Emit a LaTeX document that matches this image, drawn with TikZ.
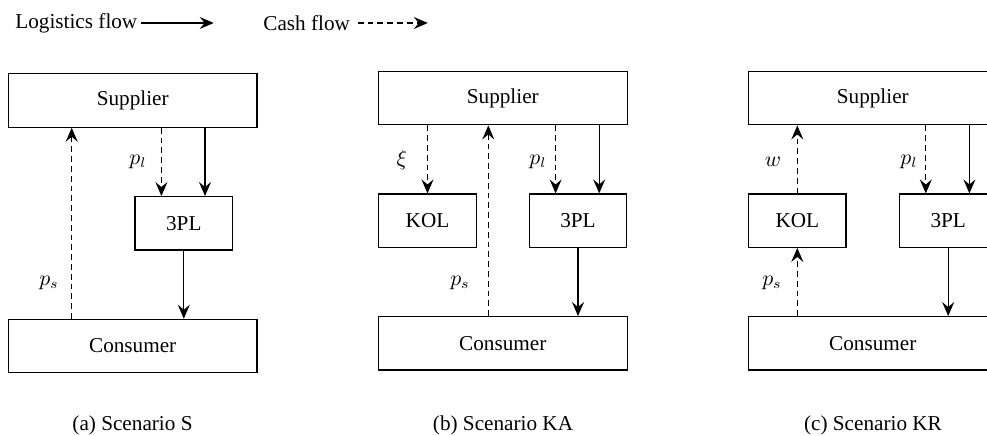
\documentclass[tikz,border=0pt]{standalone}
\usepackage{fontspec}
\setmainfont{Liberation Serif}
\usetikzlibrary{arrows.meta,calc}
\begin{document}
\begin{tikzpicture}[x=0.5bp,y=-0.5bp,
  font=\fontsize{10.6bp}{12bp}\selectfont,
  box/.style={draw,line width=0.6bp,rectangle,inner sep=0pt,minimum height=26.65bp},
  bigbox/.style={box,minimum width=124.3bp},
  smallbox/.style={box,minimum width=48.7bp},
  flow/.style={line width=0.6bp,-{Stealth[length=7bp,width=6bp,inset=2.5bp]}},
  cash/.style={flow,dash pattern=on 2.9bp off 2bp},
  lbl/.style={inner sep=0pt}]
\useasboundingbox (0,0) rectangle (987,436);
\clip (0,0) rectangle (987,436);

% legend
\node[lbl,anchor=west] (lgL) at (15,23) {Logistics flow};
\draw[flow] ([xshift=1.5bp]lgL.east) -- ++(73,0);
\node[lbl,anchor=west] (lgC) at (263,23) {Cash flow};
\draw[cash] ([xshift=3.7bp]lgC.east) -- ++(70,0);

% panel (a)
\node[bigbox] (supA) at (132.7,100.5) {Supplier};
\node[smallbox] (tplA) at (183.8,223.3) {3PL};
\node[bigbox] (conA) at (132.7,346) {Consumer};
\coordinate (psA) at (71.7,0);
\draw[cash] (conA.north -| psA) -- (supA.south -| psA);
\draw[cash] ($(supA.south -| tplA.north)+(-22.4,0)$) -- ($(tplA.north)+(-22.4,0)$);
\draw[flow] ($(supA.south -| tplA.north)+(21.2,0)$) -- ($(tplA.north)+(21.2,0)$);
\draw[flow] (tplA.south) -- (conA.north -| tplA.south);
\node[lbl] (lplA) at (138,162) {$p_l$};
\node[lbl] (lpsA) at (49,283) {$p_s$};
\node[lbl] (capA) at (132.5,425) {(a) Scenario S};

% panel (b)
\node[bigbox] (supB) at (502.8,98.2) {Supplier};
\node[smallbox] (kolB) at (427.5,220.7) {KOL};
\node[smallbox] (tplB) at (578,220.7) {3PL};
\node[bigbox] (conB) at (502.8,343.3) {Consumer};
\draw[cash] (supB.south -| kolB.north) -- (kolB.north);
\coordinate (psB) at (488.3,0);
\draw[cash] (conB.north -| psB) -- (supB.south -| psB);
\draw[cash] ($(supB.south -| tplB.north)+(-22.4,0)$) -- ($(tplB.north)+(-22.4,0)$);
\draw[flow] ($(supB.south -| tplB.north)+(21.2,0)$) -- ($(tplB.north)+(21.2,0)$);
\draw[flow] (tplB.south) -- (conB.north -| tplB.south);
\node[lbl] (lxiB) at (402,160) {$\xi$};
\node[lbl] (lpsB) at (460,283) {$p_s$};
\node[lbl] (lplB) at (538,162) {$p_l$};
\node[lbl] (capB) at (503,425) {(b) Scenario KA};

% panel (c)
\node[bigbox] (supC) at (872.8,98.2) {Supplier};
\node[smallbox] (kolC) at (797.3,220.7) {KOL};
\node[smallbox] (tplC) at (948.2,220.7) {3PL};
\node[bigbox] (conC) at (872.8,343.3) {Consumer};
\draw[cash] (kolC.north) -- (supC.south -| kolC.north);
\draw[cash] (conC.north -| kolC.south) -- (kolC.south);
\draw[cash] ($(supC.south -| tplC.north)+(-22.4,0)$) -- ($(tplC.north)+(-22.4,0)$);
\draw[flow] ($(supC.south -| tplC.north)+(21.2,0)$) -- ($(tplC.north)+(21.2,0)$);
\draw[flow] (tplC.south) -- (conC.north -| tplC.south);
\node[lbl] (lwC) at (773,161.7) {$w$};
\node[lbl] (lpsC) at (772,283) {$p_s$};
\node[lbl] (lplC) at (909,162) {$p_l$};
\node[lbl] (capC) at (873,425) {(c) Scenario KR};
\end{tikzpicture}
\end{document}
